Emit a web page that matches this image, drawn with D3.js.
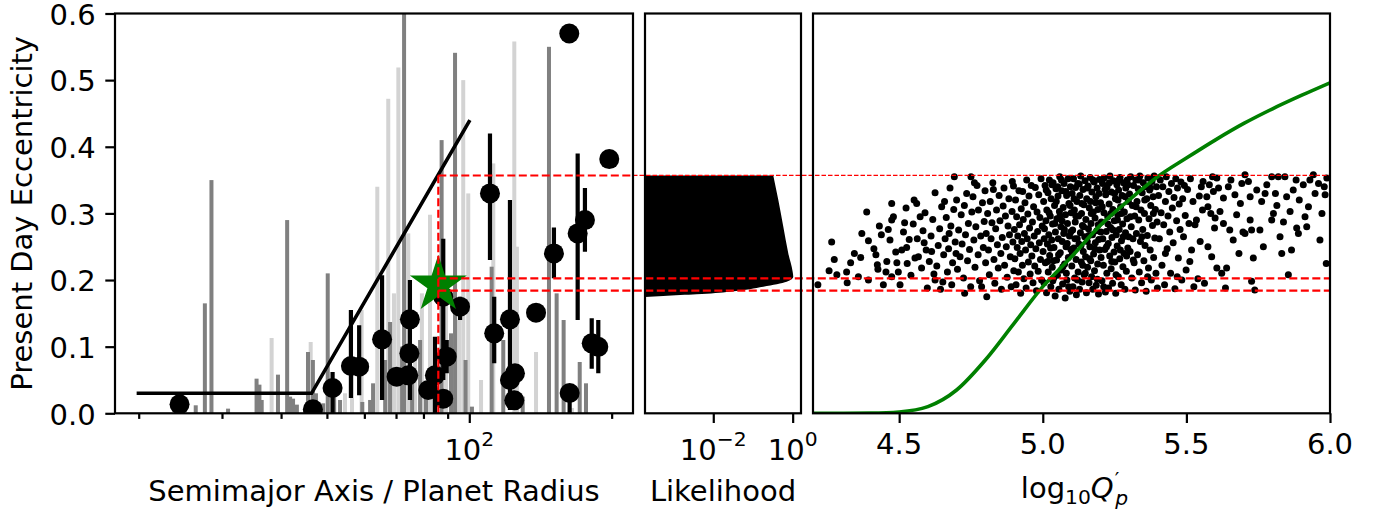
<!DOCTYPE html>
<html lang="en">
<head>
<meta charset="UTF-8">
<title>Eccentricity vs tidal Q</title>
<script src="https://d3js.org/d3.v7.min.js"></script>
<style>
  body { margin: 0; background: #fff; }
  text { font-family: "DejaVu Sans", sans-serif; fill: #000; }
</style>
</head>
<body>
<svg id="fig" width="1381" height="510"></svg>
<script>
// ---- data ----
// left panel: grey bars (semimajor axis / planet radius, eccentricity, 1 = dark grey)
var barA = [26.4, 27.6, 28.5, 30.9, 35.5, 36.0, 36.4, 38.2, 39.4, 41.2, 41.8, 42.4, 43.2, 45.6, 46.2, 46.7, 47.4, 49.1, 50.2, 50.8,
            51.8, 53.3, 54.6, 56.5, 59.2, 59.4, 61.7, 62.6, 63.9, 66.4, 67.4, 68.0, 69.3, 70.8, 72.1, 72.8, 74.3, 75.7, 76.8, 78.7,
            79.4, 81.0, 82.6, 84.2, 87.4, 89.3, 91.5, 93.3, 95.1, 97.1, 98.2, 99.5, 101.3, 105.9, 111.5, 112.4, 118.0, 124.5, 126.1, 129.7,
            138.4, 147.4, 153.0, 158.3, 164.9, 171.2, 176.5];
var barH = [0.012, 0.165, 0.35, 0.007, 0.052, 0.043, 0.02, 0.113, 0.058, 0.29, 0.025, 0.022, 0.013, 0.092, 0.107, 0.08, 0.03, 0.015, 0.21, 0.05,
            0.025, 0.02, 0.03, 0.08, 0.155, 0.017, 0.02, 0.045, 0.34, 0.08, 0.472, 0.137, 0.18, 0.519, 0.10, 0.62, 0.27, 0.05, 0.09, 0.11,
            0.18, 0.04, 0.298, 0.06, 0.41, 0.2, 0.12, 0.541, 0.14, 0.50, 0.08, 0.33, 0.01, 0.05, 0.22, 0.375, 0.11, 0.558, 0.25, 0.025,
            0.092, 0.55, 0.18, 0.14, 0.008, 0.077, 0.045];
var barDark = [1, 1, 1, 1, 1, 1, 1, 0, 1, 1, 1, 1, 1, 1, 0, 1, 1, 1, 1, 0,
               1, 1, 0, 0, 0, 1, 1, 1, 0, 1, 0, 1, 0, 0, 1, 1, 0, 1, 0, 1,
               0, 1, 0, 0, 1, 0, 1, 1, 0, 0, 1, 0, 1, 0, 1, 0, 1, 0, 0, 1,
               0, 1, 1, 1, 0, 1, 1];

// left panel: observed planets with eccentricity error bars
var obsA  = [24.4, 46.7, 51.4, 56.2, 58.5, 65.4, 70.2, 74.3, 74.7, 74.9, 81.9, 84.6, 88.1, 88.1, 89.6, 95.6, 110.6, 112.9, 121.9, 121.9,
             124.9, 124.5, 138.4, 151.0, 162.7, 163.0, 169.5, 175.6, 181.5, 187.4, 197.7];
var obsE  = [0.0135, 0.006, 0.038, 0.071, 0.070, 0.111, 0.055, 0.057, 0.090, 0.141, 0.035, 0.057, 0.022, 0.175, 0.085, 0.160, 0.330, 0.120, 0.141, 0.050,
             0.060, 0.0195, 0.151, 0.240, 0.570, 0.0305, 0.270, 0.290, 0.105, 0.0997, 0.3815];
var obsLo = [0.0135, 0.006, 0.0, 0.023, 0.027, 0.020, 0.055, 0.057, 0.090, 0.020, 0.035, 0.0, 0.022, 0.05, 0.06, 0.140, 0.230, 0.075, 0.005, 0.050,
             0.060, 0.0195, 0.151, 0.2026, 0.570, 0.0, 0.140, 0.2425, 0.067, 0.060, 0.3815];
var obsHi = [0.0135, 0.006, 0.062, 0.155, 0.132, 0.207, 0.055, 0.057, 0.090, 0.200, 0.035, 0.115, 0.022, 0.262, 0.11, 0.175, 0.420, 0.175, 0.320, 0.050,
             0.060, 0.0195, 0.151, 0.279, 0.570, 0.0305, 0.390, 0.338, 0.1425, 0.140, 0.3815];

// upper envelope line
var envA = [19.8, 46.4, 100.3];
var envE = [0.03, 0.03, 0.44];

// the planet (star) and eccentricity limits
var starA = 86.0, starE = 0.193;
var eMax = 0.357, eHi = 0.2026, eLo = 0.184;

// middle panel: likelihood vs eccentricity
var likeE = [0.1745, 0.176, 0.1785, 0.1824, 0.1899, 0.1974, 0.205, 0.2125, 0.2402, 0.2802, 0.3203, 0.357];
var likeL = [1e-4, 5.5e-4, 3.8e-3, 0.0264, 0.182, 0.706, 1.035, 1.0, 0.775, 0.58, 0.434, 0.325];

// right panel: green curve, log10 Q'p vs eccentricity
var curveQ = [4.2, 4.3, 4.4, 4.5, 4.6, 4.7, 4.8, 4.9, 5.0, 5.1, 5.2, 5.3, 5.4, 5.5, 5.6, 5.7, 5.8, 5.9, 6.0];
var curveE = [0.0, 0.0, 0.0003, 0.002, 0.01, 0.035, 0.08, 0.135, 0.19, 0.235, 0.282, 0.32, 0.355, 0.383, 0.41, 0.435, 0.457, 0.477, 0.496];

// right panel: samples [log10 Q'p, e]
var samples = [
 [4.217,0.193],[4.256,0.214],[4.265,0.257],[4.274,0.231],[4.283,0.208],
 [4.317,0.212],[4.319,0.196],[4.344,0.240],[4.366,0.234],[4.370,0.270],[4.387,0.302],[4.393,0.259],[4.393,0.200],[4.331,0.226],[4.358,0.205],
 [4.419,0.238],[4.424,0.223],[4.426,0.216],[4.457,0.228],[4.454,0.212],[4.468,0.260],[4.474,0.315],[4.474,0.290],[4.480,0.295],[4.474,0.205],
 [4.497,0.212],[4.412,0.247],[4.438,0.268],[4.445,0.193],[4.462,0.276],[4.488,0.242],[4.431,0.281],[4.492,0.226],
 [4.503,0.193],[4.509,0.245],[4.524,0.308],[4.526,0.249],[4.528,0.225],[4.535,0.261],[4.549,0.284],[4.555,0.233],[4.561,0.315],[4.563,0.262],
 [4.567,0.235],[4.573,0.295],[4.515,0.272],[4.541,0.207],[4.578,0.218],[4.583,0.274],[4.590,0.301],[4.594,0.245],[4.598,0.188],[4.552,0.320],
 [4.587,0.256],[4.519,0.286],
 [4.605,0.228],[4.611,0.266],[4.617,0.291],[4.625,0.331],[4.625,0.200],[4.631,0.221],[4.636,0.252],[4.641,0.277],[4.648,0.310],[4.652,0.197],
 [4.655,0.238],[4.660,0.262],[4.664,0.294],[4.668,0.212],[4.672,0.247],[4.677,0.338],[4.680,0.281],[4.683,0.193],[4.686,0.226],[4.690,0.306],
 [4.692,0.355],[4.695,0.257],[4.698,0.240],[4.613,0.243],[4.644,0.186],[4.658,0.318],[4.674,0.270],[4.621,0.209],
 [4.700,0.320],[4.703,0.216],[4.707,0.275],[4.712,0.235],[4.716,0.298],[4.719,0.254],[4.724,0.203],[4.727,0.312],[4.731,0.268],[4.735,0.330],
 [4.738,0.229],[4.741,0.285],[4.745,0.246],[4.749,0.190],[4.750,0.355],[4.753,0.302],[4.757,0.325],[4.760,0.260],[4.764,0.219],[4.767,0.280],
 [4.771,0.342],[4.775,0.238],[4.776,0.305],[4.780,0.199],[4.784,0.266],[4.787,0.190],[4.790,0.316],[4.793,0.249],[4.796,0.288],[4.799,0.334],
 [4.728,0.180],[4.762,0.346],
 [4.801,0.226],[4.803,0.270],[4.805,0.175],[4.808,0.300],[4.811,0.245],[4.814,0.208],[4.817,0.318],[4.820,0.262],[4.823,0.286],[4.826,0.346],
 [4.828,0.336],[4.830,0.231],[4.833,0.195],[4.836,0.277],[4.839,0.305],[4.842,0.253],[4.845,0.218],[4.848,0.327],[4.851,0.289],[4.854,0.240],
 [4.856,0.186],[4.859,0.264],[4.862,0.311],[4.865,0.338],[4.867,0.222],[4.870,0.296],[4.873,0.250],[4.876,0.204],[4.879,0.281],[4.882,0.322],
 [4.884,0.268],[4.887,0.235],[4.890,0.190],[4.893,0.303],[4.894,0.348],[4.896,0.257],[4.898,0.341],[4.899,0.214],
 [4.901,0.276],[4.903,0.232],[4.905,0.320],[4.907,0.193],[4.909,0.295],[4.911,0.249],[4.913,0.266],[4.915,0.212],[4.917,0.334],[4.919,0.283],
 [4.921,0.240],[4.923,0.180],[4.925,0.307],[4.927,0.258],[4.929,0.222],[4.930,0.333],[4.932,0.291],[4.934,0.202],[4.936,0.270],[4.938,0.316],
 [4.940,0.245],[4.942,0.188],[4.944,0.350],[4.946,0.262],[4.948,0.299],[4.950,0.227],[4.952,0.326],[4.954,0.278],[4.956,0.209],[4.958,0.253],
 [4.960,0.342],[4.962,0.236],[4.964,0.287],[4.966,0.196],[4.968,0.310],[4.970,0.266],[4.972,0.221],[4.974,0.339],[4.976,0.247],[4.978,0.184],
 [4.980,0.302],[4.982,0.273],[4.984,0.213],[4.986,0.328],[4.988,0.256],[4.990,0.294],[4.992,0.231],[4.994,0.352],[4.996,0.200],[4.998,0.281],
 [5.001,0.243],[5.003,0.318],[5.004,0.196],[5.006,0.277],[5.008,0.342],[5.009,0.226],[5.011,0.289],[5.013,0.181],[5.014,0.305],[5.016,0.254],
 [5.018,0.331],[5.019,0.212],[5.021,0.268],[5.023,0.350],[5.024,0.237],[5.026,0.296],[5.028,0.190],[5.029,0.322],[5.031,0.260],[5.033,0.219],
 [5.034,0.284],[5.036,0.346],[5.038,0.203],[5.039,0.249],[5.041,0.312],[5.043,0.176],[5.044,0.272],[5.046,0.337],[5.048,0.230],[5.049,0.292],
 [5.051,0.207],[5.053,0.326],[5.054,0.262],[5.056,0.186],[5.058,0.303],[5.059,0.355],[5.061,0.241],[5.063,0.280],[5.064,0.215],[5.066,0.334],
 [5.068,0.258],[5.069,0.194],[5.071,0.309],[5.073,0.270],[5.074,0.345],[5.076,0.224],[5.078,0.173],[5.079,0.298],[5.081,0.250],[5.083,0.327],
 [5.084,0.200],[5.086,0.285],[5.088,0.352],[5.089,0.234],[5.091,0.315],[5.093,0.266],[5.094,0.183],[5.096,0.340],[5.098,0.246],[5.099,0.301],
 [5.037,0.229],[5.052,0.340],[5.067,0.289],[5.082,0.210],[5.097,0.272],
 [5.101,0.221],[5.102,0.330],[5.104,0.275],[5.105,0.190],[5.107,0.352],[5.108,0.248],[5.110,0.305],[5.111,0.203],[5.113,0.287],[5.114,0.339],
 [5.116,0.231],[5.117,0.178],[5.119,0.318],[5.120,0.262],[5.122,0.345],[5.123,0.212],[5.125,0.296],[5.126,0.254],[5.128,0.186],[5.129,0.327],
 [5.131,0.271],[5.132,0.356],[5.134,0.227],[5.135,0.300],[5.137,0.197],[5.138,0.282],[5.140,0.336],[5.141,0.243],[5.143,0.313],[5.144,0.208],
 [5.146,0.265],[5.147,0.349],[5.149,0.235],[5.150,0.291],[5.152,0.181],[5.153,0.322],[5.155,0.258],[5.156,0.219],[5.158,0.341],[5.159,0.277],
 [5.161,0.196],[5.162,0.308],[5.164,0.250],[5.165,0.354],[5.167,0.229],[5.168,0.285],[5.170,0.205],[5.171,0.332],[5.173,0.268],[5.174,0.186],
 [5.176,0.302],[5.177,0.239],[5.179,0.347],[5.180,0.214],[5.182,0.293],[5.183,0.256],[5.185,0.325],[5.186,0.192],[5.188,0.274],[5.189,0.338],
 [5.191,0.224],[5.192,0.306],[5.194,0.179],[5.195,0.261],[5.197,0.351],[5.198,0.245],[5.112,0.262],[5.139,0.222],[5.166,0.318],[5.193,0.283],
 [5.201,0.316],[5.203,0.234],[5.204,0.287],[5.206,0.199],[5.208,0.345],[5.209,0.262],[5.211,0.222],[5.213,0.301],[5.214,0.353],[5.216,0.246],
 [5.218,0.182],[5.219,0.328],[5.221,0.273],[5.223,0.210],[5.224,0.340],[5.226,0.295],[5.228,0.255],[5.229,0.188],[5.231,0.314],[5.233,0.236],
 [5.234,0.356],[5.236,0.279],[5.238,0.217],[5.239,0.332],[5.241,0.264],[5.243,0.195],[5.244,0.306],[5.246,0.349],[5.248,0.242],[5.249,0.289],
 [5.251,0.227],[5.253,0.322],[5.254,0.180],[5.256,0.268],[5.258,0.343],[5.259,0.251],[5.261,0.298],[5.263,0.205],[5.264,0.335],[5.266,0.276],
 [5.268,0.232],[5.269,0.354],[5.271,0.310],[5.273,0.193],[5.274,0.259],[5.276,0.327],[5.278,0.284],[5.279,0.220],[5.281,0.346],[5.283,0.240],
 [5.284,0.302],[5.286,0.186],[5.288,0.271],[5.289,0.338],[5.291,0.213],[5.293,0.292],[5.294,0.350],[5.296,0.248],[5.298,0.318],[5.299,0.265],
 [5.237,0.300],[5.262,0.320],
 [5.302,0.329],[5.304,0.243],[5.306,0.355],[5.308,0.280],[5.310,0.203],[5.312,0.312],[5.314,0.262],[5.316,0.342],[5.318,0.226],[5.320,0.296],
 [5.322,0.185],[5.324,0.350],[5.326,0.270],[5.328,0.318],[5.330,0.238],[5.332,0.337],[5.334,0.290],[5.336,0.212],[5.338,0.356],[5.340,0.258],
 [5.342,0.305],[5.344,0.196],[5.346,0.331],[5.348,0.276],[5.350,0.346],[5.352,0.229],[5.354,0.300],[5.356,0.252],[5.358,0.340],[5.360,0.183],
 [5.362,0.322],[5.364,0.267],[5.366,0.353],[5.368,0.218],[5.370,0.292],[5.372,0.335],[5.374,0.245],[5.376,0.312],[5.378,0.200],[5.380,0.348],
 [5.382,0.282],[5.384,0.325],[5.386,0.234],[5.388,0.356],[5.390,0.263],[5.392,0.306],[5.394,0.210],[5.396,0.340],[5.398,0.287],[5.399,0.188],
 [5.403,0.327],[5.406,0.262],[5.409,0.350],[5.412,0.301],[5.415,0.222],[5.418,0.340],[5.421,0.283],[5.424,0.193],[5.427,0.318],[5.430,0.355],
 [5.433,0.247],[5.436,0.296],[5.439,0.333],[5.442,0.272],[5.445,0.210],[5.448,0.345],[5.451,0.308],[5.454,0.256],[5.457,0.324],[5.460,0.187],
 [5.463,0.352],[5.466,0.289],[5.469,0.338],[5.472,0.233],[5.475,0.314],[5.478,0.276],[5.481,0.347],[5.484,0.200],[5.487,0.322],[5.490,0.265],
 [5.493,0.342],[5.496,0.297],[5.499,0.215],[5.427,0.240],[5.468,0.205],
 [5.504,0.336],[5.509,0.285],[5.514,0.352],[5.518,0.245],[5.523,0.318],[5.530,0.283],[5.535,0.290],[5.540,0.202],[5.548,0.258],[5.552,0.340],
 [5.558,0.348],[5.563,0.195],[5.571,0.325],[5.575,0.250],[5.575,0.310],[5.580,0.343],[5.588,0.235],[5.594,0.333],[5.598,0.278],[5.545,0.326],
 [5.526,0.190],[5.585,0.300],[5.512,0.228],[5.556,0.305],[5.591,0.355],
 [5.600,0.293],[5.606,0.353],[5.606,0.218],[5.617,0.303],[5.623,0.210],[5.629,0.285],[5.629,0.323],[5.640,0.218],[5.646,0.340],[5.663,0.260],
 [5.669,0.328],[5.675,0.298],[5.693,0.345],[5.655,0.350],[5.683,0.240],[5.612,0.338],[5.636,0.188],[5.651,0.275],[5.688,0.315],[5.697,0.272],
 [5.704,0.358],[5.704,0.270],[5.716,0.348],[5.722,0.290],[5.722,0.325],[5.727,0.275],[5.733,0.233],[5.727,0.198],[5.745,0.335],[5.756,0.275],
 [5.762,0.318],[5.774,0.330],[5.780,0.343],[5.797,0.355],[5.797,0.290],[5.738,0.185],[5.768,0.250],
 [5.803,0.300],[5.810,0.330],[5.820,0.355],[5.826,0.265],[5.832,0.240],[5.843,0.355],[5.849,0.325],[5.861,0.303],[5.872,0.335],[5.882,0.350],
 [5.884,0.278],[5.890,0.270],[5.815,0.312],[5.838,0.287],[5.866,0.245],[5.893,0.320],[5.855,0.208],
 [5.907,0.343],[5.913,0.295],[5.919,0.280],[5.930,0.350],[5.942,0.358],[5.948,0.330],[5.960,0.345],[5.965,0.260],[5.980,0.340],[5.983,0.328],
 [5.987,0.225],[5.989,0.353],[5.925,0.310],[5.972,0.300],
 [5.005,0.262],[5.012,0.335],[5.017,0.228],[5.022,0.301],[5.027,0.248],[5.032,0.343],[5.035,0.199],[5.042,0.285],[5.047,0.318],[5.055,0.238],
 [5.060,0.296],[5.065,0.350],[5.070,0.220],[5.075,0.276],[5.080,0.333],[5.085,0.255],[5.090,0.190],[5.095,0.312],[5.103,0.240],[5.109,0.322],
 [5.115,0.296],[5.121,0.200],[5.127,0.344],[5.133,0.252],[5.136,0.315],[5.142,0.280],[5.148,0.210],[5.154,0.338],[5.160,0.267],[5.163,0.232],
 [5.169,0.300],[5.175,0.350],[5.181,0.247],[5.184,0.316],[5.190,0.201],[5.196,0.330],[5.202,0.272],[5.207,0.310],[5.212,0.190],[5.217,0.336],
 [5.222,0.250],[5.227,0.284],[5.232,0.346],[5.240,0.228],[5.245,0.275],[5.250,0.330],[5.255,0.208],[5.260,0.290],[5.265,0.350],[5.270,0.245],
 [5.275,0.300],[5.280,0.265],[5.287,0.325],[5.292,0.236],[5.297,0.343],[5.305,0.295],[5.315,0.230],[5.325,0.310],[5.335,0.350],[5.345,0.265],
 [5.355,0.320],[5.365,0.205],[5.375,0.338],[5.385,0.300]
];

// ticks
var eccTicks = [0, 0.1, 0.2, 0.3, 0.4, 0.5, 0.6];
var aMajor = [100], aMinor = [20, 30, 40, 50, 60, 70, 80, 90, 200];
var likeTicks = [1e-2, 1e0], likeExp = ["\u22122", "0"];
var qTicks = [4.5, 5.0, 5.5, 6.0];

// ---- layout ----
var svg = d3.select("#fig");
var yBot = 413.3, yTop = 13.5;
var pA = [115, 633], pL = [645, 801], pQ = [813, 1330];

var ecc = d3.scaleLinear().domain([0, 0.6]).range([yBot, yTop]);
var xA = d3.scaleLog().domain([17.82, 221.9]).range(pA);
var xL = d3.scaleLog().domain([Math.pow(10, -3.72), Math.pow(10, 0.21)]).range(pL).clamp(true);
var xQ = d3.scaleLinear().domain([4.2, 6.0]).range(pQ);

var defs = svg.append("defs");
[["clipA", pA], ["clipL", pL], ["clipQ", pQ]].forEach(function (c) {
    defs.append("clipPath").attr("id", c[0]).append("rect")
        .attr("x", c[1][0]).attr("y", yTop).attr("width", c[1][1] - c[1][0]).attr("height", yBot - yTop);
});

// ---- left panel ----
var gA = svg.append("g").attr("clip-path", "url(#clipA)");
var bars = barA.map(function (a, i) { return { a: a, h: barH[i], dark: barDark[i] }; });
bars.sort(function (p, q) { return p.dark - q.dark; });
gA.selectAll("rect.bar").data(bars).enter().append("rect")
    .attr("x", function (d) { return xA(d.a) - 2; })
    .attr("y", function (d) { return ecc(d.h); })
    .attr("width", 4)
    .attr("height", function (d) { return yBot - ecc(d.h); })
    .attr("fill", function (d) { return d.dark ? "#808080" : "#d3d3d3"; });

gA.append("path")
    .datum(envA.map(function (a, i) { return [a, envE[i]]; }))
    .attr("d", d3.line().x(function (d) { return xA(d[0]); }).y(function (d) { return ecc(d[1]); }))
    .attr("fill", "none").attr("stroke", "#000").attr("stroke-width", 3.6);

gA.selectAll("line.err").data(obsA).enter().append("line")
    .attr("x1", function (d) { return xA(d); }).attr("x2", function (d) { return xA(d); })
    .attr("y1", function (d, i) { return ecc(obsLo[i]); })
    .attr("y2", function (d, i) { return ecc(obsHi[i]); })
    .attr("stroke", "#000").attr("stroke-width", 4.2);
gA.selectAll("circle.obs").data(obsA).enter().append("circle")
    .attr("cx", function (d) { return xA(d); })
    .attr("cy", function (d, i) { return ecc(obsE[i]); })
    .attr("r", 10).attr("fill", "#000");

var starPts = d3.range(10).map(function (k) {
    var r = k % 2 === 0 ? 30 : 30 * 0.381966;
    var ang = -Math.PI / 2 + k * Math.PI / 5;
    return [xA(starA) + r * Math.cos(ang), ecc(starE) + r * Math.sin(ang)];
});
gA.append("polygon").attr("points", starPts.map(function (p) { return p.join(","); }).join(" "))
    .attr("fill", "#008000");

// ---- middle panel ----
var gL = svg.append("g").attr("clip-path", "url(#clipL)");
gL.append("path")
    .datum(likeE.map(function (e, i) { return [e, likeL[i]]; }))
    .attr("d", d3.area().curve(d3.curveMonotoneY)
        .y(function (d) { return ecc(d[0]); })
        .x0(pL[0])
        .x1(function (d) { return xL(d[1]); }))
    .attr("fill", "#000");

// ---- right panel ----
var gQ = svg.append("g").attr("clip-path", "url(#clipQ)");
gQ.selectAll("circle").data(samples).enter().append("circle")
    .attr("cx", function (d) { return xQ(d[0]); })
    .attr("cy", function (d) { return ecc(d[1]); })
    .attr("r", 3.5).attr("fill", "#000");
gQ.append("path")
    .datum(curveQ.map(function (q, i) { return [q, curveE[i]]; }))
    .attr("d", d3.line().curve(d3.curveMonotoneX).x(function (d) { return xQ(d[0]); }).y(function (d) { return ecc(d[1]); }))
    .attr("fill", "none").attr("stroke", "#008000").attr("stroke-width", 3.6);

// ---- red dashed guides ----
var xs = xA(starA);
var red = svg.append("g").attr("stroke", "#ff0000").attr("fill", "none");
red.append("line").attr("x1", xs).attr("x2", xs).attr("y1", ecc(0)).attr("y2", ecc(eMax))
    .attr("stroke-width", 2.2).attr("stroke-dasharray", "8,3.5");
red.append("line").attr("x1", xs).attr("x2", pA[1]).attr("y1", ecc(eMax)).attr("y2", ecc(eMax))
    .attr("stroke-width", 2).attr("stroke-dasharray", "8,3.5");
red.append("line").attr("x1", pA[1]).attr("x2", pQ[1]).attr("y1", ecc(eMax)).attr("y2", ecc(eMax))
    .attr("stroke-width", 1.3).attr("stroke-dasharray", "4.5,2");
[eHi, eLo].forEach(function (e) {
    red.append("line").attr("x1", xs).attr("x2", pQ[1]).attr("y1", ecc(e)).attr("y2", ecc(e))
        .attr("stroke-width", 2.2).attr("stroke-dasharray", "8,3.5");
});

// ---- frames and axes ----
[pA, pL, pQ].forEach(function (p) {
    svg.append("rect").attr("x", p[0]).attr("y", yTop).attr("width", p[1] - p[0]).attr("height", yBot - yTop)
        .attr("fill", "none").attr("stroke", "#000").attr("stroke-width", 2.2);
});

function cleanAxis(g) {
    g.select(".domain").remove();
    g.selectAll(".tick text").remove();
    g.selectAll(".tick line").attr("stroke", "#000").attr("stroke-width", 2.2);
}

svg.append("g").attr("transform", "translate(" + pA[0] + ",0)")
    .call(d3.axisLeft(ecc).tickValues(eccTicks).tickSize(9.7)).call(cleanAxis);
svg.append("g").attr("transform", "translate(0," + yBot + ")")
    .call(d3.axisBottom(xA).tickValues(aMajor).tickSize(9.7)).call(cleanAxis);
svg.append("g").attr("transform", "translate(0," + yBot + ")")
    .call(d3.axisBottom(xA).tickValues(aMinor).tickSize(5.6)).call(cleanAxis);
svg.append("g").attr("transform", "translate(0," + yBot + ")")
    .call(d3.axisBottom(xL).tickValues(likeTicks).tickSize(9.7)).call(cleanAxis);
svg.append("g").attr("transform", "translate(0," + yBot + ")")
    .call(d3.axisBottom(xQ).tickValues(qTicks).tickSize(9.7)).call(cleanAxis);

var fs = 29, fsSmall = 20.3;
var labels = svg.append("g").attr("font-size", fs);
labels.selectAll("text.ytl").data(eccTicks).enter().append("text")
    .attr("x", pA[0] - 19.4).attr("y", function (d) { return ecc(d) + 11.3; })
    .attr("text-anchor", "end").text(d3.format(".1f"));

function powLabel(x, base, ex) {
    var t = labels.append("text").attr("x", x).attr("y", 460).attr("text-anchor", "middle");
    t.append("tspan").text(base);
    t.append("tspan").attr("dy", -14).attr("font-size", fsSmall).text(ex);
}
aMajor.forEach(function (a) { powLabel(xA(a), "10", String(Math.round(Math.log10(a)))); });
likeTicks.forEach(function (v, i) { powLabel(xL(v), "10", likeExp[i]); });

labels.selectAll("text.qtl").data(qTicks).enter().append("text")
    .attr("x", function (d) { return xQ(d); }).attr("y", 454)
    .attr("text-anchor", "middle").text(d3.format(".1f"));

labels.append("text").attr("x", (pA[0] + pA[1]) / 2).attr("y", 501).attr("text-anchor", "middle")
    .text("Semimajor Axis / Planet Radius");
labels.append("text").attr("x", (pL[0] + pL[1]) / 2).attr("y", 501).attr("text-anchor", "middle")
    .text("Likelihood");
labels.append("text").attr("transform", "translate(32," + (yTop + yBot) / 2 + ") rotate(-90)")
    .attr("text-anchor", "middle").text("Present Day Eccentricity");

var ql = labels.append("text").attr("x", (pQ[0] + pQ[1]) / 2 + 3).attr("y", 498).attr("text-anchor", "middle");
ql.append("tspan").text("log");
ql.append("tspan").attr("dy", 6).attr("font-size", fsSmall).text("10");
ql.append("tspan").attr("dy", -6).attr("font-style", "italic").text("Q");
ql.append("tspan").attr("dy", -12).attr("dx", 1).attr("font-size", fsSmall).text("\u2032");
ql.append("tspan").attr("dy", 19).attr("dx", -4).attr("font-size", fsSmall).attr("font-style", "italic").text("p");
</script>
</body>
</html>
